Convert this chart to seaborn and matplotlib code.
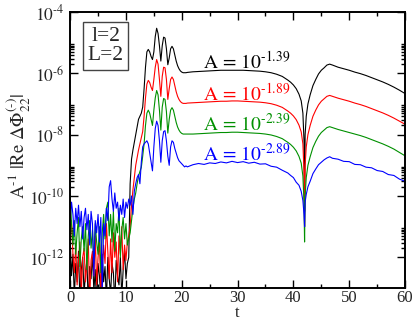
import numpy as np
import matplotlib
matplotlib.use("Agg")
import matplotlib.pyplot as plt
import seaborn as sns
from matplotlib.ticker import FixedLocator, FixedFormatter, NullFormatter

# time samples (noise part, burst part, tail part)
t_noise = [0.0, 0.25, 0.5, 0.75, 1.0, 1.25, 1.5, 1.75, 2.0, 2.25,
           2.5, 2.75, 3.0, 3.25, 3.5, 3.75, 4.0, 4.25, 4.5, 4.75,
           5.0, 5.25, 5.5, 5.75, 6.0, 6.25, 6.5, 6.75, 7.0, 7.25,
           7.5, 7.75, 8.0, 8.25, 8.5, 8.75, 9.0, 9.25, 9.5, 9.75,
           10.0, 10.25, 10.5]
t_burst = [10.75, 11.0, 11.25, 11.5, 11.75, 12.0, 12.25, 12.5, 12.75, 13.0,
           13.25, 13.5, 13.75, 14.0, 14.25, 14.5, 14.75, 15.0, 15.25, 15.5,
           15.75, 16.0, 16.25, 16.5, 16.75, 17.0, 17.25, 17.5, 17.75, 18.0,
           18.25, 18.5, 18.75, 19.0, 19.25, 19.5, 19.75, 20.0, 20.25, 20.5,
           20.75, 21.0]
t_tail = [22, 23, 24, 25, 26, 27, 28, 29, 30, 31, 32, 33, 34, 35, 36, 37, 38, 39,
          39.5, 40, 40.5, 41, 41.4, 41.7, 41.9, 42.0, 42.1, 42.3, 42.6, 43.0,
          43.5, 44.0, 44.5, 45.0, 45.5, 46.0, 46.5, 47,
          48, 49, 50, 51, 52, 53, 54, 55, 56, 57, 58, 59, 60]

# log10 of A^-1 |Re dPhi|
black_noise = [-11.4, -12.6, -11.9, -13.3, -12.2, -12.8, -11.8, -13.4, -12.4, -12.0,
               -13.2, -12.5, -12.1, -13.5, -12.3, -12.7, -11.9, -13.1, -12.4, -13.6,
               -12.2, -12.6, -13.3, -11.9, -12.8, -12.3, -13.4, -12.0, -12.7, -13.2,
               -12.2, -12.5, -13.5, -12.1, -12.6, -12.9, -12.0, -13.3, -12.4, -11.8,
               -12.7, -12.2, -12.0]
black_burst = [-9.6, -8.8, -8.5, -8.25, -8.0, -7.75, -7.5, -7.4, -7.3, -7.1,
               -6.5, -5.8, -5.3, -5.22, -5.3, -5.45, -5.55, -5.3, -4.8, -4.53,
               -4.7, -5.1, -5.6, -5.1, -4.82, -4.85, -5.2, -5.72, -5.5, -5.2,
               -5.12, -5.2, -5.4, -5.6, -5.75, -5.85, -5.92, -5.96, -5.98, -5.98,
               -5.98, -5.97]
black_tail = [-5.95, -5.94, -5.93, -5.92, -5.91, -5.9, -5.9, -5.9, -5.9, -5.9,
              -5.91, -5.92, -5.93, -5.95, -5.98, -6.03, -6.1, -6.22,
              -6.29, -6.38, -6.5, -6.68, -6.9, -7.3, -8.2, -10.5, -8.0, -7.4,
              -7.0, -6.7, -6.4, -6.2, -6.02, -5.9, -5.82, -5.73, -5.7, -5.73,
              -5.8, -5.85, -5.9, -5.96, -6.01, -6.07, -6.14, -6.21, -6.28, -6.36,
              -6.45, -6.55, -6.66]

red_noise = [-11.0, -10.8, -11.9, -12.5, -11.6, -12.9, -12.1, -11.5, -13.2, -12.0,
             -11.7, -12.8, -12.2, -11.4, -13.4, -12.1, -11.8, -12.6, -11.3, -12.9,
             -12.0, -11.5, -13.1, -12.3, -11.6, -12.2, -10.9, -11.8, -12.7, -11.4,
             -12.5, -11.2, -12.0, -11.5, -12.8, -11.3, -11.9, -11.0, -12.4, -11.6,
             -12.1, -11.5, -11.3]
red_burst = [-11.0, -10.3, -9.8, -9.4, -9.0, -8.75, -8.5, -8.3, -8.1, -7.9,
             -7.4, -6.8, -6.35, -6.23, -6.3, -6.45, -6.56, -6.2, -5.8, -5.55,
             -5.7, -6.2, -6.75, -6.1, -5.8, -5.82, -6.2, -6.85, -6.5, -6.2,
             -6.12, -6.2, -6.4, -6.6, -6.75, -6.85, -6.92, -6.96, -6.98, -6.98,
             -6.98, -6.97]
red_tail = [-6.96, -6.95, -6.94, -6.93, -6.92, -6.91, -6.91, -6.9, -6.9, -6.91,
            -6.92, -6.93, -6.94, -6.96, -6.99, -7.04, -7.11, -7.23,
            -7.3, -7.39, -7.51, -7.69, -7.91, -8.3, -9.2, -11.0, -9.0, -8.4,
            -8.0, -7.7, -7.4, -7.2, -7.03, -6.91, -6.83, -6.75, -6.72, -6.75,
            -6.81, -6.86, -6.91, -6.97, -7.02, -7.08, -7.15, -7.22, -7.29, -7.37,
            -7.46, -7.56, -7.66]

green_noise = [-10.0, -10.9, -11.6, -10.8, -11.9, -11.2, -10.7, -12.3, -11.4, -11.0,
               -11.8, -10.9, -12.4, -11.3, -10.8, -11.7, -11.1, -12.2, -10.9, -11.5,
               -11.9, -11.0, -12.5, -11.2, -10.6, -11.4, -10.4, -10.2, -11.3, -10.6,
               -11.5, -10.5, -11.8, -10.9, -11.2, -10.4, -12.0, -11.1, -10.7, -11.4,
               -10.9, -11.6, -11.4]
green_burst = [-11.2, -10.8, -10.4, -10.1, -9.9, -9.6, -9.35, -9.2, -9.07, -8.7,
               -8.3, -7.7, -7.3, -7.2, -7.3, -7.5, -7.7, -7.2, -6.8, -6.56,
               -6.7, -7.2, -7.85, -7.1, -6.82, -6.85, -7.25, -7.95, -7.5, -7.2,
               -7.12, -7.2, -7.4, -7.6, -7.75, -7.85, -7.92, -7.96, -7.98, -7.98,
               -7.98, -7.98]
green_tail = [-7.98, -7.97, -7.96, -7.95, -7.94, -7.93, -7.93, -7.92, -7.92, -7.93,
              -7.94, -7.95, -7.96, -7.98, -8.01, -8.06, -8.13, -8.25,
              -8.32, -8.41, -8.53, -8.71, -8.93, -9.35, -10.2, -11.5, -10.0, -9.4,
              -9.0, -8.72, -8.42, -8.22, -8.05, -7.93, -7.85, -7.77, -7.74, -7.77,
              -7.83, -7.88, -7.93, -7.98, -8.03, -8.09, -8.16, -8.23, -8.3, -8.38,
              -8.47, -8.58, -8.69]

blue_noise = [-10.8, -10.2, -10.6, -11.3, -10.4, -10.9, -10.3, -11.0, -10.5, -11.4,
              -10.7, -10.4, -11.1, -10.6, -11.6, -10.5, -10.9, -12.6, -10.8, -11.2,
              -10.6, -11.5, -10.7, -13.2, -10.9, -11.3, -10.4, -10.8, -9.7, -9.5,
              -10.1, -10.5, -9.9, -10.4, -10.2, -10.8, -10.3, -10.6, -10.1, -10.7,
              -10.2, -10.4, -10.1]
blue_burst = [-10.3, -10.0, -10.6, -9.84, -9.6, -9.4, -9.3, -9.6, -8.9, -8.4,
              -8.3, -8.25, -8.2, -8.3, -8.6, -8.9, -9.18, -8.4, -7.8, -7.56,
              -7.7, -8.2, -8.9, -8.2, -7.9, -7.87, -8.2, -8.7, -9.0, -8.4,
              -8.2, -8.25, -8.45, -8.6, -8.75, -8.85, -8.9, -8.95, -9.0, -9.05,
              -9.02, -9.05]
blue_tail = [-8.98, -8.94, -8.97, -8.92, -8.94, -8.89, -8.92, -8.87, -8.91, -8.88,
             -8.93, -8.9, -8.96, -8.95, -9.03, -9.06, -9.16, -9.25,
             -9.33, -9.4, -9.55, -9.65, -9.85, -10.15, -10.6, -11.0, -10.2, -9.95,
             -9.7, -9.52, -9.27, -9.12, -8.98, -8.9, -8.82, -8.76, -8.72, -8.77,
             -8.8, -8.87, -8.88, -8.97, -8.98, -9.06, -9.08, -9.17, -9.2, -9.3,
             -9.33, -9.45, -9.52]

labels = [r"$\mathrm{A\,=\,10}^{\text{-}1.39}$", r"$\mathrm{A\,=\,10}^{\text{-}1.89}$",
          r"$\mathrm{A\,=\,10}^{\text{-}2.39}$", r"$\mathrm{A\,=\,10}^{\text{-}2.89}$"]
label_y = [-5.84, -6.89, -7.9, -8.85]
colors = ["black", "#ff0000", "#009000", "#0000ff"]
ytick_text = [r"$10^{\text{-}12}$", r"$10^{\text{-}10}$", r"$10^{\text{-}8}$",
              r"$10^{\text{-}6}$", r"$10^{\text{-}4}$"]

sns.set_style("ticks")
plt.rcParams['font.family'] = ['Liberation Serif', 'DejaVu Serif']
plt.rcParams['mathtext.fontset'] = 'stix'

fig = plt.figure(figsize=(4.15, 3.2), dpi=100)
ax = fig.add_axes([0.169, 0.1, 0.807, 0.8625])

t_all = t_noise + t_burst + t_tail
series = [black_noise + black_burst + black_tail,
          red_noise + red_burst + red_tail,
          green_noise + green_burst + green_tail,
          blue_noise + blue_burst + blue_tail]

for vals, c in zip(series, colors):
    sns.lineplot(x=t_all, y=10 ** np.array(vals), color=c, lw=0.8,
                 estimator=None, sort=False, ax=ax)

ax.set_yscale('log')
ax.set_xlim(0, 60)
ax.set_ylim(1e-13, 1e-4)

ax.xaxis.set_major_locator(FixedLocator([0, 10, 20, 30, 40, 50, 60]))
ax.xaxis.set_minor_locator(FixedLocator([5, 15, 25, 35, 45, 55]))
ax.yaxis.set_major_locator(FixedLocator([1e-12, 1e-10, 1e-8, 1e-6, 1e-4]))
ax.yaxis.set_major_formatter(FixedFormatter(ytick_text))
ax.yaxis.set_minor_locator(FixedLocator([n * 10.0 ** k for k in (-12, -10, -8, -6)
                                         for n in range(2, 10)]))
ax.yaxis.set_minor_formatter(NullFormatter())
ax.tick_params(which='both', direction='in', top=True, right=True,
               color='black', width=1)
ax.tick_params(axis='x', labelsize=12)
ax.tick_params(axis='y', labelsize=12.5)
ax.tick_params(which='major', length=6)
ax.tick_params(axis='x', which='major', pad=1.5)
ax.tick_params(axis='y', which='major', pad=4)
ax.tick_params(which='minor', length=3)
for s in ax.spines.values():
    s.set_linewidth(1.4)
    s.set_color('black')

ax.set_xlabel("")
ax.set_ylabel("")
fig.text(237.5 / 415, 1 - 317 / 320, "t", ha='center', va='baseline', fontsize=12)
fig.text(19 / 415, 1 - 146 / 320,
         r"$\mathrm{A}^{\text{-}1}\ |\mathrm{Re}\ \Delta\Phi_{22}^{(\text{-})}|$",
         rotation=90, ha='center', va='center', fontsize=13.5)

for lab, ly, c in zip(labels, label_y, colors):
    ax.text(23.8, 10 ** ly, lab, color=c, fontsize=14, va='baseline')

ax.text(0.106, 0.877, "l=2\nL=2", transform=ax.transAxes, ha='center', va='center',
        fontsize=15.5, linespacing=1.0,
        bbox=dict(boxstyle='square,pad=0.22', fc='white', ec='#444444', lw=1))

fig.savefig("out.png", dpi=100)
